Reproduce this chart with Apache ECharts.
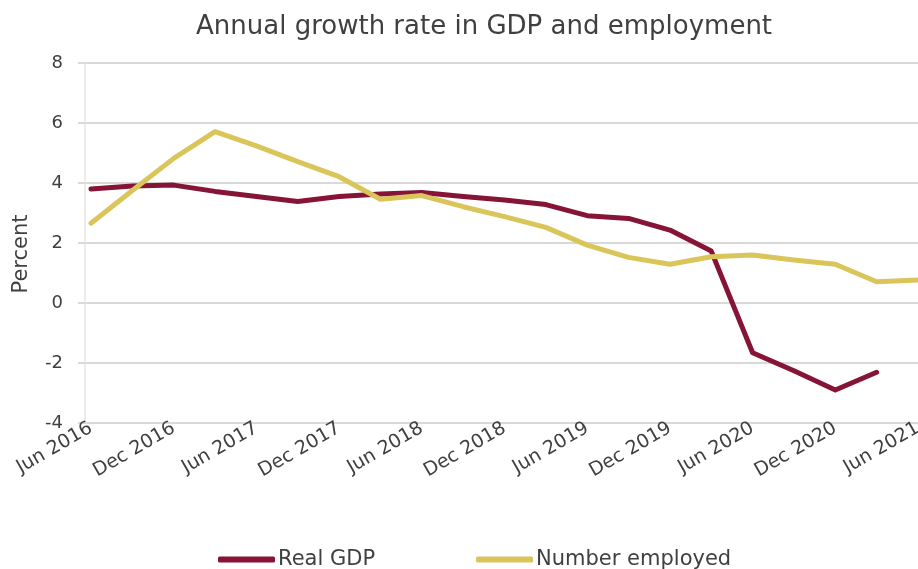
<!DOCTYPE html>
<html><head><meta charset="utf-8">
<script src="https://cdn.jsdelivr.net/npm/echarts@6/dist/echarts.min.js"></script>
<style>html,body{margin:0;padding:0;background:#fff}#c{width:918px;height:569px}</style>
</head><body><div id="c"></div>
<script>
const categories = ['Jun 2016','Sep 2016','Dec 2016','Mar 2017','Jun 2017','Sep 2017','Dec 2017','Mar 2018','Jun 2018','Sep 2018','Dec 2018','Mar 2019','Jun 2019','Sep 2019','Dec 2019','Mar 2020','Jun 2020','Sep 2020','Dec 2020','Mar 2021','Jun 2021'];
const realGDP = [3.8,3.9,3.93,3.72,3.55,3.38,3.55,3.63,3.68,3.55,3.43,3.28,2.91,2.82,2.43,1.73,-1.66,-2.26,-2.9,-2.31,null];
const numberEmployed = [2.66,3.75,4.82,5.71,5.24,4.71,4.21,3.46,3.58,3.21,2.88,2.52,1.93,1.52,1.29,1.54,1.6,1.43,1.29,0.71,0.77];
const xTickLabels = ['Jun 2016','Dec 2016','Jun 2017','Dec 2017','Jun 2018','Dec 2018','Jun 2019','Dec 2019','Jun 2020','Dec 2020','Jun 2021'];
const yTicks = [-4,-2,0,2,4,6,8];
const yAxisTitle = 'Percent';

const font = 'DejaVu Sans';
const txt = '#404040';
const labelIdx = xTickLabels.map(l => categories.indexOf(l));
const chart = echarts.init(document.getElementById('c'));
chart.setOption({
  animation:false,
  title:{text:'Annual growth rate in GDP and employment',left:191,top:9,
    textStyle:{fontFamily:font,fontSize:26,fontWeight:'normal',color:txt}},
  legend:{left:218,top:549,padding:0,itemWidth:57,itemHeight:6,itemGap:101,
    icon:'roundRect',
    textStyle:{fontFamily:font,fontSize:21,color:txt,padding:[0,0,0,-2]},
    data:['Real GDP','Number employed']},
  graphic:[{type:'text',x:22,y:254,rotation:Math.PI/2,
    style:{text:yAxisTitle,fontFamily:font,fontSize:21,fill:txt,align:'center',verticalAlign:'middle'}}],
  grid:{left:85,right:0,top:63,bottom:146,outerBoundsMode:'none',containLabel:false},
  xAxis:{type:'value',min:-0.145,max:categories.length-1,
    axisLine:{show:false},axisTick:{show:false},splitLine:{show:false},
    axisLabel:{customValues:labelIdx,rotate:30,fontFamily:font,fontSize:19,color:txt,margin:4,
      formatter:v=>categories[Math.round(v)]}},
  yAxis:{type:'value',min:yTicks[0],max:yTicks[yTicks.length-1],interval:2,
    axisLine:{show:true,onZero:false,lineStyle:{color:'#e8e4e0',width:1.5}},
    axisTick:{show:true,length:7,lineStyle:{color:'#d9d9d9',width:2}},
    axisLabel:{fontFamily:font,fontSize:18,color:txt,margin:22},
    splitLine:{lineStyle:{color:'#d9d9d9',width:2}}},
  series:[
    {name:'Real GDP',type:'line',data:realGDP.map((v,i)=>[i,v]),symbol:'none',
      lineStyle:{color:'#861436',width:5,cap:'round',join:'round'},itemStyle:{color:'#861436'}},
    {name:'Number employed',type:'line',data:numberEmployed.map((v,i)=>[i,v]),symbol:'none',
      lineStyle:{color:'#d9c55a',width:5,cap:'round',join:'round'},itemStyle:{color:'#d9c55a'}}
  ]
});
</script></body></html>
